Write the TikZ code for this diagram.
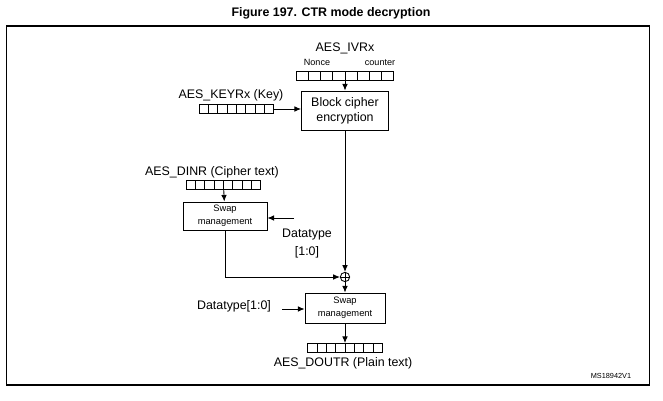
\documentclass[tikz,border=0pt]{standalone}
\usepackage{fontspec}
\setmainfont{Liberation Sans}
\usepackage{tikz}
\usetikzlibrary{arrows.meta}
\usetikzlibrary{calc}

\begin{document}
\begin{tikzpicture}[x=0.75pt,y=-0.75pt,
	lbl/.style={inner sep=0pt,font=\fontsize{9.3}{11}\selectfont},
	tiny/.style={inner sep=0pt,anchor=base,font=\fontsize{6.8}{7}\selectfont},
	box/.style={draw,line width=0.65pt,inner sep=0pt,align=center},
	reg/.style={draw,line width=0.65pt,inner sep=0pt,minimum width=#1,minimum height=6.8pt,
		path picture={\foreach \k in {1,...,7}
			\draw[line width=0.65pt] ($(path picture bounding box.south west)!\k/8!(path picture bounding box.south east)$)
				-- ($(path picture bounding box.north west)!\k/8!(path picture bounding box.north east)$);}},
	xor/.style={draw,circle,line width=0.65pt,inner sep=0pt,minimum size=7pt,
		path picture={\draw[line width=0.55pt] (path picture bounding box.north) -- (path picture bounding box.south)
			(path picture bounding box.west) -- (path picture bounding box.east);}},
	flow/.style={-{Latex[length=5pt,width=4.2pt]},line width=0.65pt}]
	\useasboundingbox (0,0) rectangle (663,400);

	% title and frame
	\node[inner sep=0pt,font=\fontsize{9.3}{11}\selectfont\bfseries] (title) at (331,13) {Figure 197. CTR mode decryption};
	\draw[line width=1.1pt] (6.5,26) rectangle (649.5,385);

	% counter block
	\node[lbl] (IVlbl) at (345,48) {AES\_IVRx};
	\node[tiny] (nonce) at (317,65) {Nonce};
	\node[tiny] (counter) at (380,65) {counter};
	\node[reg=72.75pt] (IVreg) at (345,75.5) {};
	\node[box,minimum width=65.25pt,minimum height=29.25pt,font=\fontsize{9.3}{11.5}\selectfont] (BLK) at (345,110.5) {Block cipher\\encryption};

	% key
	\node[lbl] (KEYlbl) at (231,95) {AES\_KEYRx (Key)};
	\node[reg=56pt] (KEYreg) at (236.5,109) {};

	% cipher text in
	\node[lbl] (DINlbl) at (212,172) {AES\_DINR (Cipher text)};
	\node[reg=56pt] (DINreg) at (223.5,185) {};
	\node[box,minimum width=63pt,minimum height=21pt,font=\fontsize{7}{10}\selectfont] (SW1) at (225,216) {Swap\\management};
	\node[lbl,align=center] (DT1) at (307,243.5) {Datatype\\[2pt]{[1:0]}};
	\coordinate (dt1) at (294,218);

	% xor
	\node[xor] (XOR) at (345,277) {};

	% plain text out
	\node[box,minimum width=60pt,minimum height=22.5pt,font=\fontsize{7}{10}\selectfont] (SW2) at (345,308) {Swap\\management};
	\node[lbl] (DT2) at (234,306) {Datatype[1:0]};
	\coordinate (dt2) at (282,309);
	\node[reg=56pt] (OUTreg) at (345,348) {};
	\node[lbl] (OUTlbl) at (343,363) {AES\_DOUTR (Plain text)};

	\node[inner sep=0pt,font=\fontsize{5.5}{6}\selectfont] (ref) at (611,376) {MS18942V1};

	\draw [flow] (IVreg) -- (BLK);
	\draw [flow] (KEYreg) -- (KEYreg -| BLK.west);
	\draw [flow] (BLK) -- (XOR);
	\draw [flow] (DINreg) -- (SW1);
	\draw [flow] (dt1) -- (dt1 -| SW1.east);
	\draw [flow] (SW1.south) |- (XOR.west);
	\draw [flow] (XOR) -- (SW2);
	\draw [flow] (dt2) -- (dt2 -| SW2.west);
	\draw [flow] (SW2) -- (OUTreg);
\end{tikzpicture}
\end{document}
